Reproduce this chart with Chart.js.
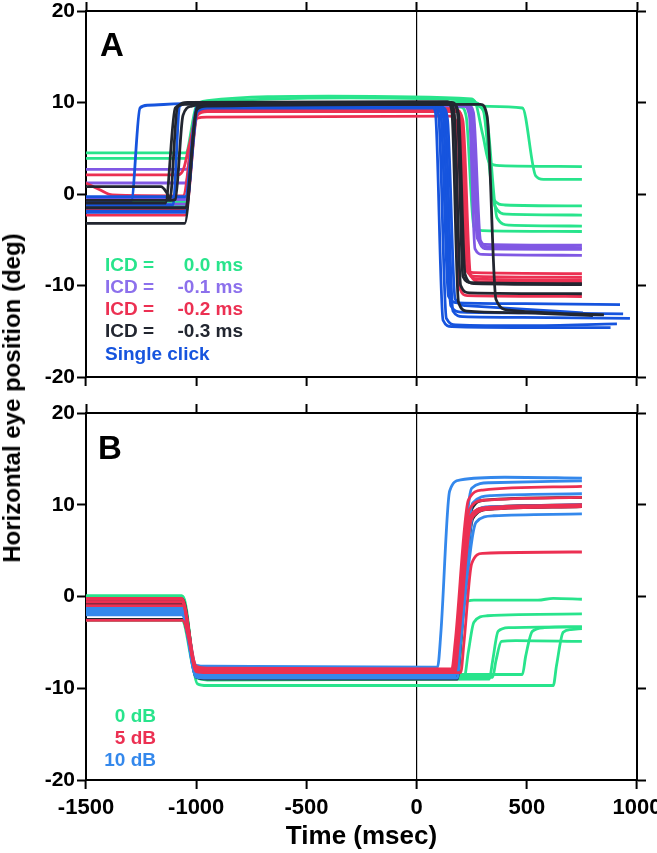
<!DOCTYPE html>
<html>
<head>
<meta charset="utf-8">
<script src="https://cdn.jsdelivr.net/npm/chart.js@4.4.1/dist/chart.umd.min.js"></script>
<style>
  body { margin: 0; background: #fff; width: 657px; height: 853px; position: relative; overflow: hidden; }
  canvas { position: absolute; left: 0; }
  #chartA { top: 0; }
  #chartB { top: 395px; }
  #ytitle {
    position: absolute; left: 12px; top: 398px;
    transform: translate(-50%, -50%) rotate(-90deg);
    font: bold 24px "Liberation Sans", Arial, sans-serif;
    white-space: nowrap; color: #000;
  }
</style>
</head>
<body>
<canvas id="chartA" width="657" height="395"></canvas>
<canvas id="chartB" width="657" height="458"></canvas>
<div id="ytitle">Horizontal eye position (deg)</div>
<script>
// tick values
const xTicks = [-1500, -1000, -500, 0, 500, 1000];
const yTicks = [-20, -10, 0, 10, 20];

// legend texts
const legendA = ["0.0 ms", "-0.1 ms", "-0.2 ms", "-0.3 ms"];
const legendB = ["0 dB", "5 dB", "10 dB"];

// panel A traces, [time ms, deg]
const icd00 = [
  [[-1500,4.5],[-1048,4.5],[-998,9.7],[-950,10.2],[-400,10.7],[250,10.4],[285,9.6],[480,9.4],[540,2.0],[575,1.6],[750,1.6]],
  [[-1500,3.9],[-1045,3.9],[-995,9.6],[-950,10.0],[-300,10.5],[260,10.2],[300,6.5],[330,3.4],[380,3.1],[750,3.0]],
  [[-1500,-0.4],[-1050,-0.4],[-995,9.3],[-950,9.8],[250,10.0],[300,9.4],[350,-0.6],[400,-1.2],[750,-1.3]],
  [[-1500,-1.9],[-1050,-1.9],[-995,9.0],[-950,9.6],[250,9.8],[305,9.0],[355,-1.3],[410,-2.2],[750,-2.3]],
  [[-1500,-1.3],[-1048,-1.3],[-995,9.2],[-950,9.7],[260,9.9],[315,8.8],[365,-2.6],[420,-3.4],[750,-3.5]],
  [[-1500,-0.9],[-1050,-0.9],[-995,9.4],[-950,9.9],[0,9.6],[200,9.5],[225,8.5],[260,-3.6],[300,-4.0],[750,-4.1]]
];
const icd01 = [
  [[-1500,2.7],[-1045,2.7],[-995,9.1],[-950,9.6],[220,9.8],[245,9.0],[275,-4.8],[310,-5.5],[750,-5.6]],
  [[-1500,1.2],[-1050,1.2],[-998,9.0],[-950,9.5],[230,9.6],[255,8.8],[285,-5.3],[320,-6.0],[750,-6.05]],
  [[-1500,-1.1],[-1045,-1.1],[-995,9.2],[-950,9.7],[215,9.6],[240,8.5],[265,-6.0],[300,-6.6],[750,-6.7]],
  [[-1500,-0.6],[-1048,-0.6],[-995,9.3],[-950,9.8],[235,9.7],[258,8.9],[290,-5.1],[330,-5.8],[750,-5.85]]
];
const icd02 = [
  [[-1500,2.1],[-1080,2.1],[-1055,2.9],[-1035,5.0],[-995,8.3],[-950,8.4],[150,8.5],[185,7.5],[215,-7.8],[260,-8.6],[750,-8.7]],
  [[-1500,1.2],[-1440,0.5],[-1380,-0.1],[-1060,-0.2],[-1000,9.0],[-950,9.4],[170,9.3],[195,8.4],[225,-8.3],[270,-9.0],[750,-9.1]],
  [[-1500,-1.6],[-1050,-1.6],[-998,8.8],[-950,9.2],[180,9.2],[205,8.2],[235,-8.6],[280,-9.3],[750,-9.4]],
  [[-1500,-2.3],[-1050,-2.3],[-995,8.6],[-950,9.0],[185,9.0],[210,8.0],[245,-8.9],[290,-9.6],[750,-9.65]],
  [[-1500,-1.9],[-1050,-1.9],[-998,8.9],[-950,9.3],[150,9.3],[175,8.0],[195,-10.2],[230,-11.1],[750,-11.2]]
];
const icd03 = [
  [[-1500,0.8],[-1160,0.8],[-1135,0.2],[-1115,-0.7],[-1095,-0.6],[-1060,8.6],[-1020,9.6],[-950,9.9],[160,10.0],[185,9.0],[210,-9.0],[250,-9.7],[750,-9.8]],
  [[-1500,-3.2],[-1052,-3.2],[-998,9.2],[-950,9.6],[290,9.8],[320,8.5],[360,-11.5],[420,-12.7],[600,-13.0],[850,-13.2]],
  [[-1500,-1.0],[-1140,-1.0],[-1095,9.4],[-1050,9.8],[150,10.0],[170,9.0],[200,-10.0],[240,-10.8],[750,-10.9]],
  [[-1500,-1.5],[-1050,-1.5],[-995,9.5],[-950,9.8],[165,9.8],[190,8.8],[220,-8.8],[260,-9.8],[750,-9.9]],
  [[-1500,-0.7],[-1120,-0.7],[-1085,9.5],[-1040,10.0],[140,10.1],[160,9.0],[190,-11.8],[230,-12.8],[500,-13.0],[800,-13.3]]
];
const single = [
  [[-1500,-0.8],[-1295,-0.8],[-1255,9.4],[-1220,9.7],[-1000,9.9],[60,9.9],[85,9.0],[120,-13.8],[160,-14.5],[500,-14.6],[880,-14.6]],
  [[-1500,-1.2],[-1105,-1.2],[-1075,9.6],[-1040,9.9],[90,9.8],[110,8.8],[145,-11.2],[190,-11.9],[600,-12.0],[923,-12.1]],
  [[-1500,-0.3],[-1050,-0.3],[-998,9.5],[-950,9.8],[100,9.8],[120,8.8],[155,-12.2],[200,-12.9],[600,-13.0],[937,-13.1]],
  [[-1500,-1.9],[-1050,-1.9],[-995,9.3],[-950,9.6],[110,9.6],[130,8.5],[165,-12.8],[210,-13.4],[600,-13.5],[968,-13.6]],
  [[-1500,-1.5],[-1048,-1.5],[-995,9.4],[-950,9.7],[80,9.6],[100,8.6],[135,-13.6],[180,-14.3],[500,-14.4],[909,-14.2]],
  [[-1500,-2.0],[-1050,-2.0],[-995,9.0],[-950,9.4],[120,9.4],[140,8.2],[175,-11.5],[220,-12.2],[500,-12.6],[755,-13.0]]
];

// panel B traces
const db0 = [
  [[-1500,0.1],[-1065,0.1],[-1000,-8.0],[-950,-8.3],[185,-8.4],[200,-6.0],[215,-0.8],[260,-0.4],[550,-0.4],[620,-0.2],[750,-0.3]],
  [[-1500,-0.4],[-1062,-0.4],[-998,-8.6],[-950,-8.9],[215,-8.9],[235,-6.0],[260,-2.8],[320,-2.1],[750,-1.9]],
  [[-1500,-2.6],[-1065,-2.6],[-1000,-8.8],[-950,-9.1],[330,-9.0],[345,-7.0],[370,-3.8],[420,-3.4],[750,-3.3]],
  [[-1500,-1.0],[-1062,-1.0],[-998,-8.6],[-950,-8.8],[345,-8.8],[360,-7.0],[385,-4.9],[450,-4.8],[750,-4.9]],
  [[-1500,-0.7],[-1065,-0.7],[-1000,-8.3],[-950,-8.5],[480,-8.5],[495,-6.5],[525,-3.8],[580,-3.4],[750,-3.3]],
  [[-1500,0.0],[-1060,0.0],[-995,-9.5],[-950,-9.7],[620,-9.7],[635,-7.5],[665,-3.9],[700,-3.6],[750,-3.5]]
];
const db5 = [
  [[-1500,-0.3],[-1065,-0.3],[-1000,-7.6],[-950,-7.8],[160,-7.9],[175,-5.0],[235,10.5],[300,11.6],[750,12.0]],
  [[-1500,-2.6],[-1062,-2.6],[-998,-7.8],[-950,-8.0],[165,-8.0],[180,-5.0],[240,9.5],[310,10.5],[750,10.8]],
  [[-1500,-0.6],[-1065,-0.6],[-1000,-8.0],[-950,-8.1],[170,-8.1],[185,-5.0],[245,8.8],[320,9.7],[750,10.0]],
  [[-1500,-1.0],[-1060,-1.0],[-1000,-8.1],[-950,-8.2],[175,-8.2],[190,-5.0],[250,8.5],[330,9.5],[750,9.8]],
  [[-1500,-0.2],[-1065,-0.2],[-1000,-8.2],[-950,-8.3],[200,-8.3],[215,-5.0],[250,3.6],[300,4.7],[750,4.85]]
];
const db10 = [
  [[-1500,-1.3],[-1062,-1.3],[-1000,-7.5],[-950,-7.6],[95,-7.7],[110,-4.0],[150,11.5],[200,12.7],[400,13.0],[750,12.9]],
  [[-1500,-1.6],[-1060,-1.6],[-998,-8.4],[-950,-8.5],[170,-8.5],[185,-5.0],[250,11.8],[330,12.4],[750,12.6]],
  [[-1500,-2.0],[-1065,-2.0],[-1000,-8.6],[-950,-8.7],[175,-8.7],[190,-5.0],[255,10.2],[340,11.0],[750,11.2]],
  [[-1500,-1.8],[-1062,-1.8],[-998,-8.0],[-950,-8.1],[180,-8.1],[195,-5.0],[260,9.2],[340,9.8],[750,10.0]],
  [[-1500,-1.4],[-1065,-1.4],[-1000,-8.8],[-950,-8.9],[185,-8.9],[200,-5.0],[270,8.1],[350,8.8],[750,9.0]]
];
const dbDark = [
  [[-1500,-0.3],[-1062,-0.3],[-998,-8.4],[-950,-8.6],[180,-8.6],[195,-5.0],[250,9.5],[310,10.5],[750,10.8]],
  [[-1500,-0.8],[-1065,-0.8],[-1000,-8.8],[-950,-9.0],[185,-9.0],[200,-5.0],[255,8.5],[330,9.5],[750,9.8]],
  [[-1500,-2.5],[-1062,-2.5],[-998,-8.2],[-950,-8.3],[175,-8.4],[190,-5.0],[250,8.8],[320,9.7],[750,10.0]]
];

const FONT = '"Liberation Sans", Arial, Helvetica, sans-serif';
const GREEN = "rgb(40,228,140)";
const PURPLE = "rgb(128,88,228)";
const RED = "rgb(236,48,82)";
const DARK = "rgb(34,38,48)";
const BLUE = "rgb(22,84,222)";
const BLUE_B = "rgb(52,136,236)";

function traces(list, color) {
  return list.map((pts) => ({
    data: pts.map(([x, y]) => ({ x: x, y: y })),
    borderColor: color,
    borderWidth: 2.8,
    pointRadius: 0,
    fill: false,
    cubicInterpolationMode: "monotone",
  }));
}

const panelText = {
  id: "panelText",
  afterDraw(chart, args, opts) {
    const ctx = chart.ctx;
    ctx.save();
    ctx.textBaseline = "middle";
    ctx.fillStyle = "#000";
    ctx.textAlign = "left";
    ctx.font = "bold 33px " + FONT;
    ctx.fillText(opts.letter, opts.letterX, opts.letterY);
    ctx.font = "bold 19px " + FONT;
    opts.lines.forEach((l) => {
      ctx.fillStyle = l.color;
      if (l.left) {
        ctx.textAlign = "left";
        ctx.fillText(l.left, opts.leftX, l.y);
      }
      if (l.right) {
        ctx.textAlign = "right";
        ctx.fillText(l.right, opts.rightX, l.y);
      }
    });
    ctx.restore();
  },
};

function makeScales(top, bottom, showXLabels) {
  const setX = (s) => { s.ticks = xTicks.map((v) => ({ value: v })); };
  const setY = (s) => { s.ticks = yTicks.map((v) => ({ value: v })); };
  return {
    x: {
      type: "linear", position: "bottom", min: -1500, max: 1000,
      afterBuildTicks: setX,
      afterFit: (s) => { s.height = bottom; s.paddingLeft = 0; s.paddingRight = 0; },
      border: { display: true, color: "#000", width: 2 },
      grid: {
        drawOnChartArea: true, drawTicks: true, tickLength: 9,
        color: (c) => (c.tick && c.tick.value === 0 ? "#000" : "rgba(0,0,0,0)"),
        lineWidth: 1.2, tickColor: "#000", tickWidth: 2,
      },
      ticks: {
        display: showXLabels, color: "#000", padding: 6, maxRotation: 0,
        callback: (v) => String(v),
        font: { family: FONT, size: 22, weight: "bold" },
      },
      title: {
        display: showXLabels, text: "Time (msec)", color: "#000",
        font: { family: FONT, size: 26, weight: "bold" },
        padding: { top: 0, bottom: 1 },
      },
    },
    x2: {
      type: "linear", position: "top", min: -1500, max: 1000,
      afterBuildTicks: setX,
      afterFit: (s) => { s.height = top; s.paddingLeft = 0; s.paddingRight = 0; },
      border: { display: true, color: "#000", width: 2 },
      grid: { drawOnChartArea: false, tickLength: 9, tickColor: "#000", tickWidth: 2, color: "#000" },
      ticks: { display: false },
    },
    y: {
      type: "linear", position: "left", min: -20, max: 20,
      afterBuildTicks: setY,
      afterFit: (s) => { s.width = 86; s.paddingTop = 0; s.paddingBottom = 0; },
      border: { display: true, color: "#000", width: 2 },
      grid: { drawOnChartArea: false, tickLength: 9, tickColor: "#000", tickWidth: 2, color: "#000" },
      ticks: { color: "#000", padding: 2, font: { family: FONT, size: 21, weight: "bold" } },
    },
    y2: {
      type: "linear", position: "right", min: -20, max: 20,
      afterBuildTicks: setY,
      afterFit: (s) => { s.width = 20; s.paddingTop = 0; s.paddingBottom = 0; },
      border: { display: true, color: "#000", width: 2 },
      grid: { drawOnChartArea: false, tickLength: 9, tickColor: "#000", tickWidth: 2, color: "#000" },
      ticks: { display: false },
    },
  };
}

function buildChart(id, datasets, scales, text) {
  return new Chart(document.getElementById(id), {
    type: "line",
    data: { datasets: datasets },
    options: {
      responsive: false,
      animation: false,
      devicePixelRatio: 1,
      layout: { padding: 0 },
      scales: scales,
      plugins: { legend: { display: false }, tooltip: { enabled: false }, panelText: text },
    },
    plugins: [panelText],
  });
}

// first dataset ends up on top
buildChart(
  "chartA",
  [].concat(traces(icd03, DARK), traces(single, BLUE), traces(icd02, RED), traces(icd01, PURPLE), traces(icd00, GREEN)),
  makeScales(11, 18, false),
  {
    letter: "A", letterX: 100, letterY: 47, leftX: 105, rightX: 243,
    lines: [
      { left: "ICD =", right: legendA[0], color: GREEN, y: 266 },
      { left: "ICD =", right: legendA[1], color: "rgb(140,112,236)", y: 288 },
      { left: "ICD =", right: legendA[2], color: RED, y: 310 },
      { left: "ICD =", right: legendA[3], color: DARK, y: 332 },
      { left: "Single click", color: BLUE, y: 355 },
    ],
  }
);

buildChart(
  "chartB",
  [].concat(traces(db5, RED), traces(db10, BLUE_B), traces(dbDark, DARK), traces(db0, GREEN)),
  makeScales(18, 73, true),
  {
    letter: "B", letterX: 98, letterY: 55, leftX: 0, rightX: 156,
    lines: [
      { right: legendB[0], color: GREEN, y: 322 },
      { right: legendB[1], color: RED, y: 344 },
      { right: legendB[2], color: BLUE_B, y: 366 },
    ],
  }
);
</script>
</body>
</html>
